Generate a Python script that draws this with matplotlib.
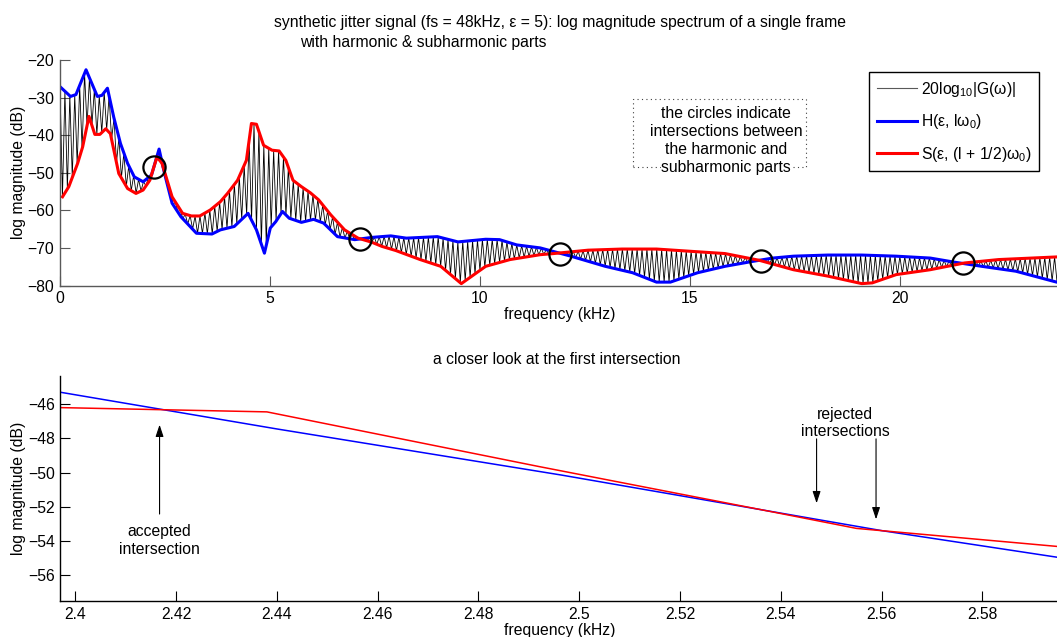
import numpy as np
import matplotlib
matplotlib.use("Agg")
import matplotlib.pyplot as plt
from matplotlib.patches import Rectangle
from matplotlib.ticker import FormatStrFormatter

FS = 11.3
plt.rcParams['font.family'] = ['Liberation Sans', 'DejaVu Sans']
plt.rcParams['font.size'] = FS
plt.rcParams['mathtext.fontset'] = 'custom'
plt.rcParams['mathtext.rm'] = 'Liberation Sans'
plt.rcParams['mathtext.it'] = 'Liberation Sans'

# ---------------- data ----------------
f0 = 0.117  # kHz, harmonic spacing

# harmonic envelope H(eps, l w0)
H_freq = [0.0, 0.25, 0.38, 0.62, 0.89, 1.0, 1.13, 1.28, 1.44, 1.61, 1.77, 1.98, 2.18,
          2.36, 2.49, 2.67, 2.88, 3.25, 3.62, 3.82, 4.15, 4.48, 4.68, 4.87, 5.01, 5.14,
          5.30, 5.46, 5.75, 6.04, 6.28, 6.61, 7.02, 7.43, 7.88, 8.25, 8.99, 9.48, 10.14,
          10.47, 10.88, 11.44, 12.17, 12.99, 13.64, 14.21, 14.54, 15.19, 15.84, 16.49,
          16.98, 17.47, 18.29, 19.10, 19.92, 20.73, 21.31, 21.96, 22.77, 23.74, 24.0]
H_db = [-27.1, -29.7, -29.2, -22.6, -29.7, -29.4, -27.5, -35.2, -42.2, -47.5, -51.1, -52.4, -50.6,
        -43.7, -50.2, -58.1, -61.7, -66.1, -66.3, -65.2, -64.3, -60.8, -65.2, -71.4, -64.7, -63.0,
        -60.3, -62.1, -63.2, -62.4, -63.4, -67.0, -67.8, -67.2, -66.8, -67.4, -67.0, -68.4, -67.7,
        -67.8, -69.2, -70.0, -72.2, -74.9, -76.6, -79.1, -79.1, -76.6, -74.9, -73.6,
        -72.7, -72.2, -71.9, -71.9, -72.2, -72.7, -73.8, -74.9, -76.2, -79.1, -79.6]

# subharmonic envelope S(eps, (l + 1/2) w0)
S_freq = [0.06, 0.21, 0.42, 0.54, 0.69, 0.83, 0.95, 1.09, 1.20, 1.40, 1.61, 1.81, 1.98, 2.14,
          2.31, 2.43, 2.67, 2.92, 3.13, 3.33, 3.58, 3.82, 3.99, 4.23, 4.44, 4.56, 4.68, 4.85,
          5.05, 5.22, 5.38, 5.55, 5.75, 5.96, 6.16, 6.45, 6.78, 7.10, 7.43, 7.67, 8.0, 8.58,
          9.07, 9.56, 10.14, 10.72, 11.44, 11.76, 12.58, 13.39, 14.21, 15.02, 15.84, 16.66,
          17.47, 18.29, 19.10, 19.35, 19.92, 20.73, 21.55, 22.36, 23.74, 24.0]
S_db = [-56.4, -53.7, -47.5, -43.1, -35.0, -39.8, -39.8, -38.3, -39.6, -50.2, -54.2, -55.5, -54.6, -52.0,
        -45.8, -47.5, -56.4, -60.8, -61.5, -61.5, -59.9, -57.7, -55.5, -52.0, -46.7, -36.9, -37.1, -42.7,
        -44.0, -44.2, -46.7, -52.0, -53.7, -55.3, -57.2, -61.2, -65.2, -67.4, -68.5, -69.6, -70.7, -73.1,
        -74.9, -79.5, -74.9, -73.1, -71.8, -71.5, -70.6, -70.3, -70.3, -70.9, -71.5, -73.3,
        -75.8, -77.5, -79.5, -79.3, -77.1, -75.8, -74.0, -73.1, -72.4, -72.3]

# intersections marked with circles
circ_freq = [2.25, 7.15, 11.91, 16.71, 21.51]
circ_db = [-48.6, -67.7, -71.5, -73.6, -74.0]

# close-up of the first intersection
zH_freq = [2.397, 2.44, 2.4965, 2.56, 2.5969]
zH_db = [-45.30, -47.45, -50.15, -53.40, -55.05]
zS_freq = [2.397, 2.438, 2.492, 2.540, 2.555, 2.5969]
zS_db = [-46.20, -46.45, -49.65, -52.40, -53.27, -54.38]

accepted_x = 2.4167
rejected_x = [2.5471, 2.5589]

# ---------------- spectrum G: alternates between H and S ----------------
n_h = int(24.0 / f0) + 1
harm = np.arange(n_h) * f0
sub = harm + f0 / 2
G_freq = np.empty(2 * n_h)
G_freq[0::2] = harm
G_freq[1::2] = sub
G_db = np.empty(2 * n_h)
G_db[0::2] = np.interp(harm, H_freq, H_db)
G_db[1::2] = np.interp(sub, S_freq, S_db)

# ---------------- figure ----------------
W, Hh = 1057, 637
fig = plt.figure(figsize=(W / 100, Hh / 100), dpi=100)

def fx(px):
    return px / W

def fy(py):
    return 1 - py / Hh

ax1 = fig.add_axes([fx(60), fy(285.5), fx(1067.5) - fx(60), fy(60) - fy(285.5)])
ax2 = fig.add_axes([fx(60.3), fy(601), fx(1067.5) - fx(60.3), fy(376) - fy(601)])

l_g, = ax1.plot(G_freq, G_db, color='black', lw=0.6)
l_h, = ax1.plot(H_freq, H_db, color=(0, 0, 1), lw=2.2)
l_s, = ax1.plot(S_freq, S_db, color=(1, 0, 0), lw=2.2)
ax1.plot(circ_freq, circ_db, 'o', ms=16, mfc='none', mec='black', mew=1.6)

ax1.set_xlim(0, 24)
ax1.set_ylim(-80, -20)
ax1.set_xticks([0, 5, 10, 15, 20])
ax1.set_yticks(np.arange(-80, -19, 10))
ax1.set_ylabel('log magnitude (dB)')
ax1.set_xlabel('frequency (kHz)')

leg = ax1.legend([l_g, l_h, l_s],
                 [r'20log$_{10}$|G(ω)|', r'H(ε, lω$_0$)', r'S(ε, (l + 1/2)ω$_0$)'],
                 loc='upper left', bbox_to_anchor=(fx(869), fy(72)),
                 bbox_transform=fig.transFigure, fancybox=False, framealpha=1,
                 edgecolor='black', handlelength=2.55, handletextpad=0.25,
                 borderpad=0.5, labelspacing=0.85, borderaxespad=0)
leg.get_frame().set_linewidth(1.0)
leg.legend_handles[0].set_color('0.35')
leg.legend_handles[0].set_linewidth(0.8)

# dotted text box
fig.patches.append(Rectangle((fx(633), fy(167)), fx(806) - fx(633), fy(99) - fy(167),
                             transform=fig.transFigure, fill=False,
                             linestyle=(0, (1, 3)), lw=0.8, edgecolor='0.25'))
for txt, yy in zip(['the circles indicate', 'intersections between',
                    'the harmonic and', 'subharmonic parts'],
                   [113, 132, 150, 168]):
    fig.text(fx(726), fy(yy), txt, ha='center', va='center',
             bbox=dict(facecolor='white', edgecolor='none', pad=0) if yy == 168 else None)

fig.text(fx(560), fy(23), 'synthetic jitter signal (fs = 48kHz, ε = 5): log magnitude spectrum of a single frame',
         ha='center', va='center')
fig.text(fx(300), fy(43), 'with harmonic & subharmonic parts', ha='left', va='center')

ax2.plot(zH_freq, zH_db, color=(0, 0, 1), lw=1.1)
ax2.plot(zS_freq, zS_db, color=(1, 0, 0), lw=1.1)
ax2.set_xlim(2.3970, 2.5969)
ax2.set_ylim(-57.52, -44.35)
ax2.set_xticks(np.round(np.arange(2.40, 2.581, 0.02), 2))
ax2.xaxis.set_major_formatter(FormatStrFormatter('%g'))
ax2.set_yticks(np.arange(-56, -45, 2))
ax2.set_ylabel('log magnitude (dB)')
ax2.set_xlabel('frequency (kHz)')
fig.text(fx(557), fy(359), 'a closer look at the first intersection', ha='center', va='center')

arrow = dict(arrowstyle='-|>,head_length=0.6,head_width=0.2', color='black', lw=0.8,
             shrinkA=0, shrinkB=0, mutation_scale=12)
ax2.annotate('', xy=(accepted_x, -47.2), xytext=(accepted_x, -52.43), arrowprops=arrow)
ax2.text(accepted_x, -53.98, 'accepted\nintersection', ha='center', va='center', linespacing=1.2)
ax2.annotate('', xy=(rejected_x[0], -51.8), xytext=(rejected_x[0], -48.03), arrowprops=arrow)
ax2.annotate('', xy=(rejected_x[1], -52.74), xytext=(rejected_x[1], -48.03), arrowprops=arrow)
ax2.text(2.5528, -47.09, 'rejected\nintersections', ha='center', va='center', linespacing=1.2)

for ax, sc in ((ax1, '0.35'), (ax2, 'black')):
    ax.spines['top'].set_visible(False)
    ax.spines['right'].set_visible(False)
    for s in ('left', 'bottom'):
        ax.spines[s].set_color(sc)
        ax.spines[s].set_linewidth(1.0)
    ax.tick_params(direction='in', length=7, width=0.8, pad=4, labelsize=FS,
                   color=sc, labelcolor='black')

ax1.yaxis.set_label_coords(fx(19), fy(172), transform=fig.transFigure)
ax2.yaxis.set_label_coords(fx(19), fy(488), transform=fig.transFigure)
ax1.xaxis.set_label_coords(fx(560), fy(314), transform=fig.transFigure)
ax2.xaxis.set_label_coords(fx(560), fy(630), transform=fig.transFigure)
for lab in (ax1.yaxis.label, ax2.yaxis.label, ax1.xaxis.label, ax2.xaxis.label):
    lab.set_va('center')

fig.savefig('out.png', dpi=100)
